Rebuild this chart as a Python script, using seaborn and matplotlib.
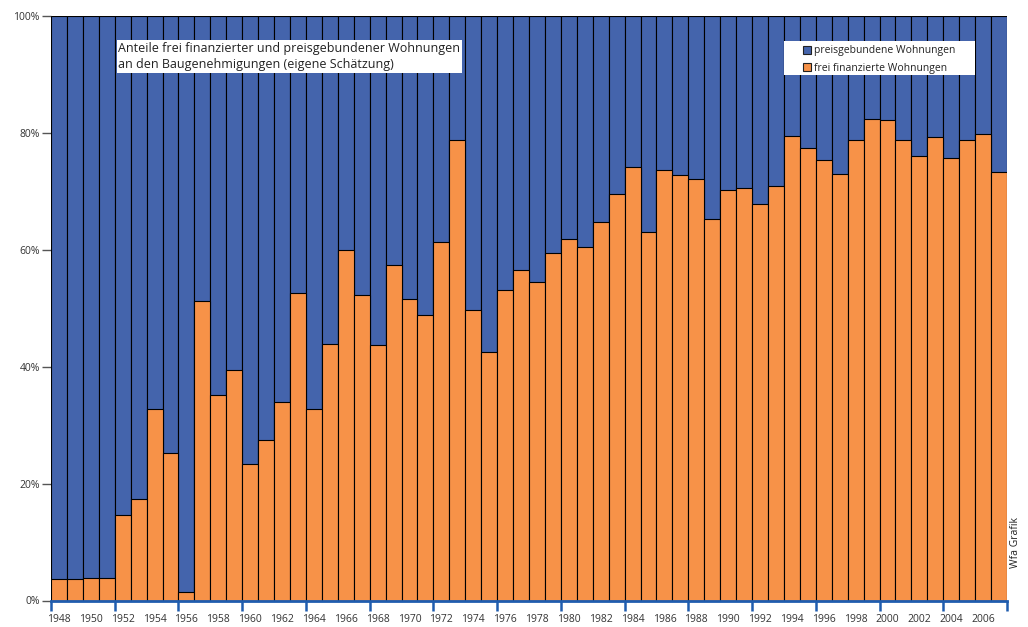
import numpy as np
import pandas as pd
import matplotlib
matplotlib.use("Agg")
import matplotlib.pyplot as plt
from matplotlib.patches import Patch, Rectangle
from matplotlib.ticker import FixedLocator, FuncFormatter
import seaborn as sns

# Share of building permits (in %), 1948-2007
years = list(range(1948, 2008))
frei_finanziert = [
    3.7, 3.7, 3.8, 3.8, 14.6, 17.4, 32.7, 25.3, 1.5, 51.2,
    35.1, 39.5, 23.4, 27.4, 34.0, 52.6, 32.8, 43.9, 59.9, 52.3,
    43.7, 57.4, 51.5, 48.9, 61.3, 78.8, 49.7, 42.5, 53.1, 56.5,
    54.4, 59.5, 61.9, 60.4, 64.7, 69.5, 74.2, 63.0, 73.6, 72.7,
    72.1, 65.2, 70.2, 70.6, 67.8, 70.8, 79.4, 77.3, 75.4, 72.9,
    78.8, 82.3, 82.2, 78.7, 76.0, 79.2, 75.7, 78.8, 79.8, 73.2,
]
preisgebunden = [round(100 - v, 1) for v in frei_finanziert]

label_preis = "preisgebundene Wohnungen"
label_frei = "frei finanzierte Wohnungen"
title_text = "Anteile frei finanzierter und preisgebundener Wohnungen\nan den Baugenehmigungen (eigene Schätzung)"
credit_text = "Wfa Grafik"

BLUE = "#4464ac"
ORANGE = "#f79248"
AXIS_BLUE = "#1f5cae"
TEXT = "#333333"

df = pd.DataFrame({
    "Jahr": [str(y) for y in years],
    "frei": frei_finanziert,
    "preis": preisgebunden,
})
df["gesamt"] = df["frei"] + df["preis"]

sns.set_theme(style="white")
plt.rcParams["font.family"] = ["Open Sans", "DejaVu Sans"]

fig = plt.figure(figsize=(10.28, 6.27), dpi=100)
ax = fig.add_axes([51 / 1028, 26.5 / 627, 956 / 1028, 584.8 / 627])

# stacked bars: the price-bound share sits on top of the freely financed share
sns.barplot(data=df, x="Jahr", y="gesamt", color=BLUE, width=1.0,
            edgecolor="black", linewidth=0.8, saturation=1, ax=ax)
sns.barplot(data=df, x="Jahr", y="frei", color=ORANGE, width=1.0,
            edgecolor="black", linewidth=0.8, saturation=1, ax=ax)

n = len(years)
ax.set_xlim(-0.5, n - 0.5)
ax.set_ylim(0, 100)
ax.set_xlabel("")
ax.set_ylabel("")

# x axis: blue ticks at every fourth bar boundary, labels every second year
ax.xaxis.set_major_locator(FixedLocator(np.arange(-0.5, n, 4)))
ax.xaxis.set_major_formatter(FuncFormatter(lambda v, p: ""))
ax.xaxis.set_minor_locator(FixedLocator(np.arange(0, n, 2)))
ax.xaxis.set_minor_formatter(FuncFormatter(lambda v, p: str(years[int(round(v))])))
ax.tick_params(axis="x", which="major", bottom=True, length=7.5, width=1.8,
               color=AXIS_BLUE, direction="out")
ax.tick_params(axis="x", which="minor", bottom=True, length=0, pad=9.5,
               labelsize=7.5, labelcolor=TEXT)

ax.set_yticks(np.arange(0, 101, 20))
ax.yaxis.set_major_formatter(FuncFormatter(lambda v, p: f"{int(v)}%"))
ax.tick_params(axis="y", left=True, length=6.5, width=1.0, color="#555555",
               labelsize=7.5, labelcolor=TEXT, pad=1.5)

for side in ("top", "right", "left"):
    ax.spines[side].set_visible(False)
ax.spines["bottom"].set_color(AXIS_BLUE)
ax.spines["bottom"].set_linewidth(2.0)
ax.spines["bottom"].set_zorder(5)

# title box
ax.text(67.5 / 956, (600.5 - 42) / 584.8, title_text, transform=ax.transAxes,
        ha="left", va="top", fontsize=9, color="#222222", linespacing=1.33,
        bbox=dict(boxstyle="square,pad=0.15", fc="white", ec="none"), zorder=10)

# legend on a white panel
ax.add_patch(Rectangle(((784 - 51) / 956, (600.5 - 75) / 584.8),
                       (975 - 784) / 956, 34 / 584.8, transform=ax.transAxes,
                       facecolor="white", edgecolor="none", zorder=9))
handles = [Patch(facecolor=BLUE, edgecolor="#222222", linewidth=0.8, label=label_preis),
           Patch(facecolor=ORANGE, edgecolor="#222222", linewidth=0.8, label=label_frei)]
leg = ax.legend(handles=handles, loc="upper left",
                bbox_to_anchor=((803 - 51) / 956, (600.5 - 45.5) / 584.8),
                frameon=False, fontsize=7.5, handlelength=0.75, handleheight=0.75,
                handletextpad=0.3, labelspacing=0.58, borderpad=0, borderaxespad=0)
leg.set_zorder(11)
for t in leg.get_texts():
    t.set_color("#222222")

fig.text(1016 / 1028, 1 - 542 / 627, credit_text, rotation=90, ha="center",
         va="center", fontsize=7.5, color="#222222")

fig.savefig("out.png", dpi=100, facecolor="white")
